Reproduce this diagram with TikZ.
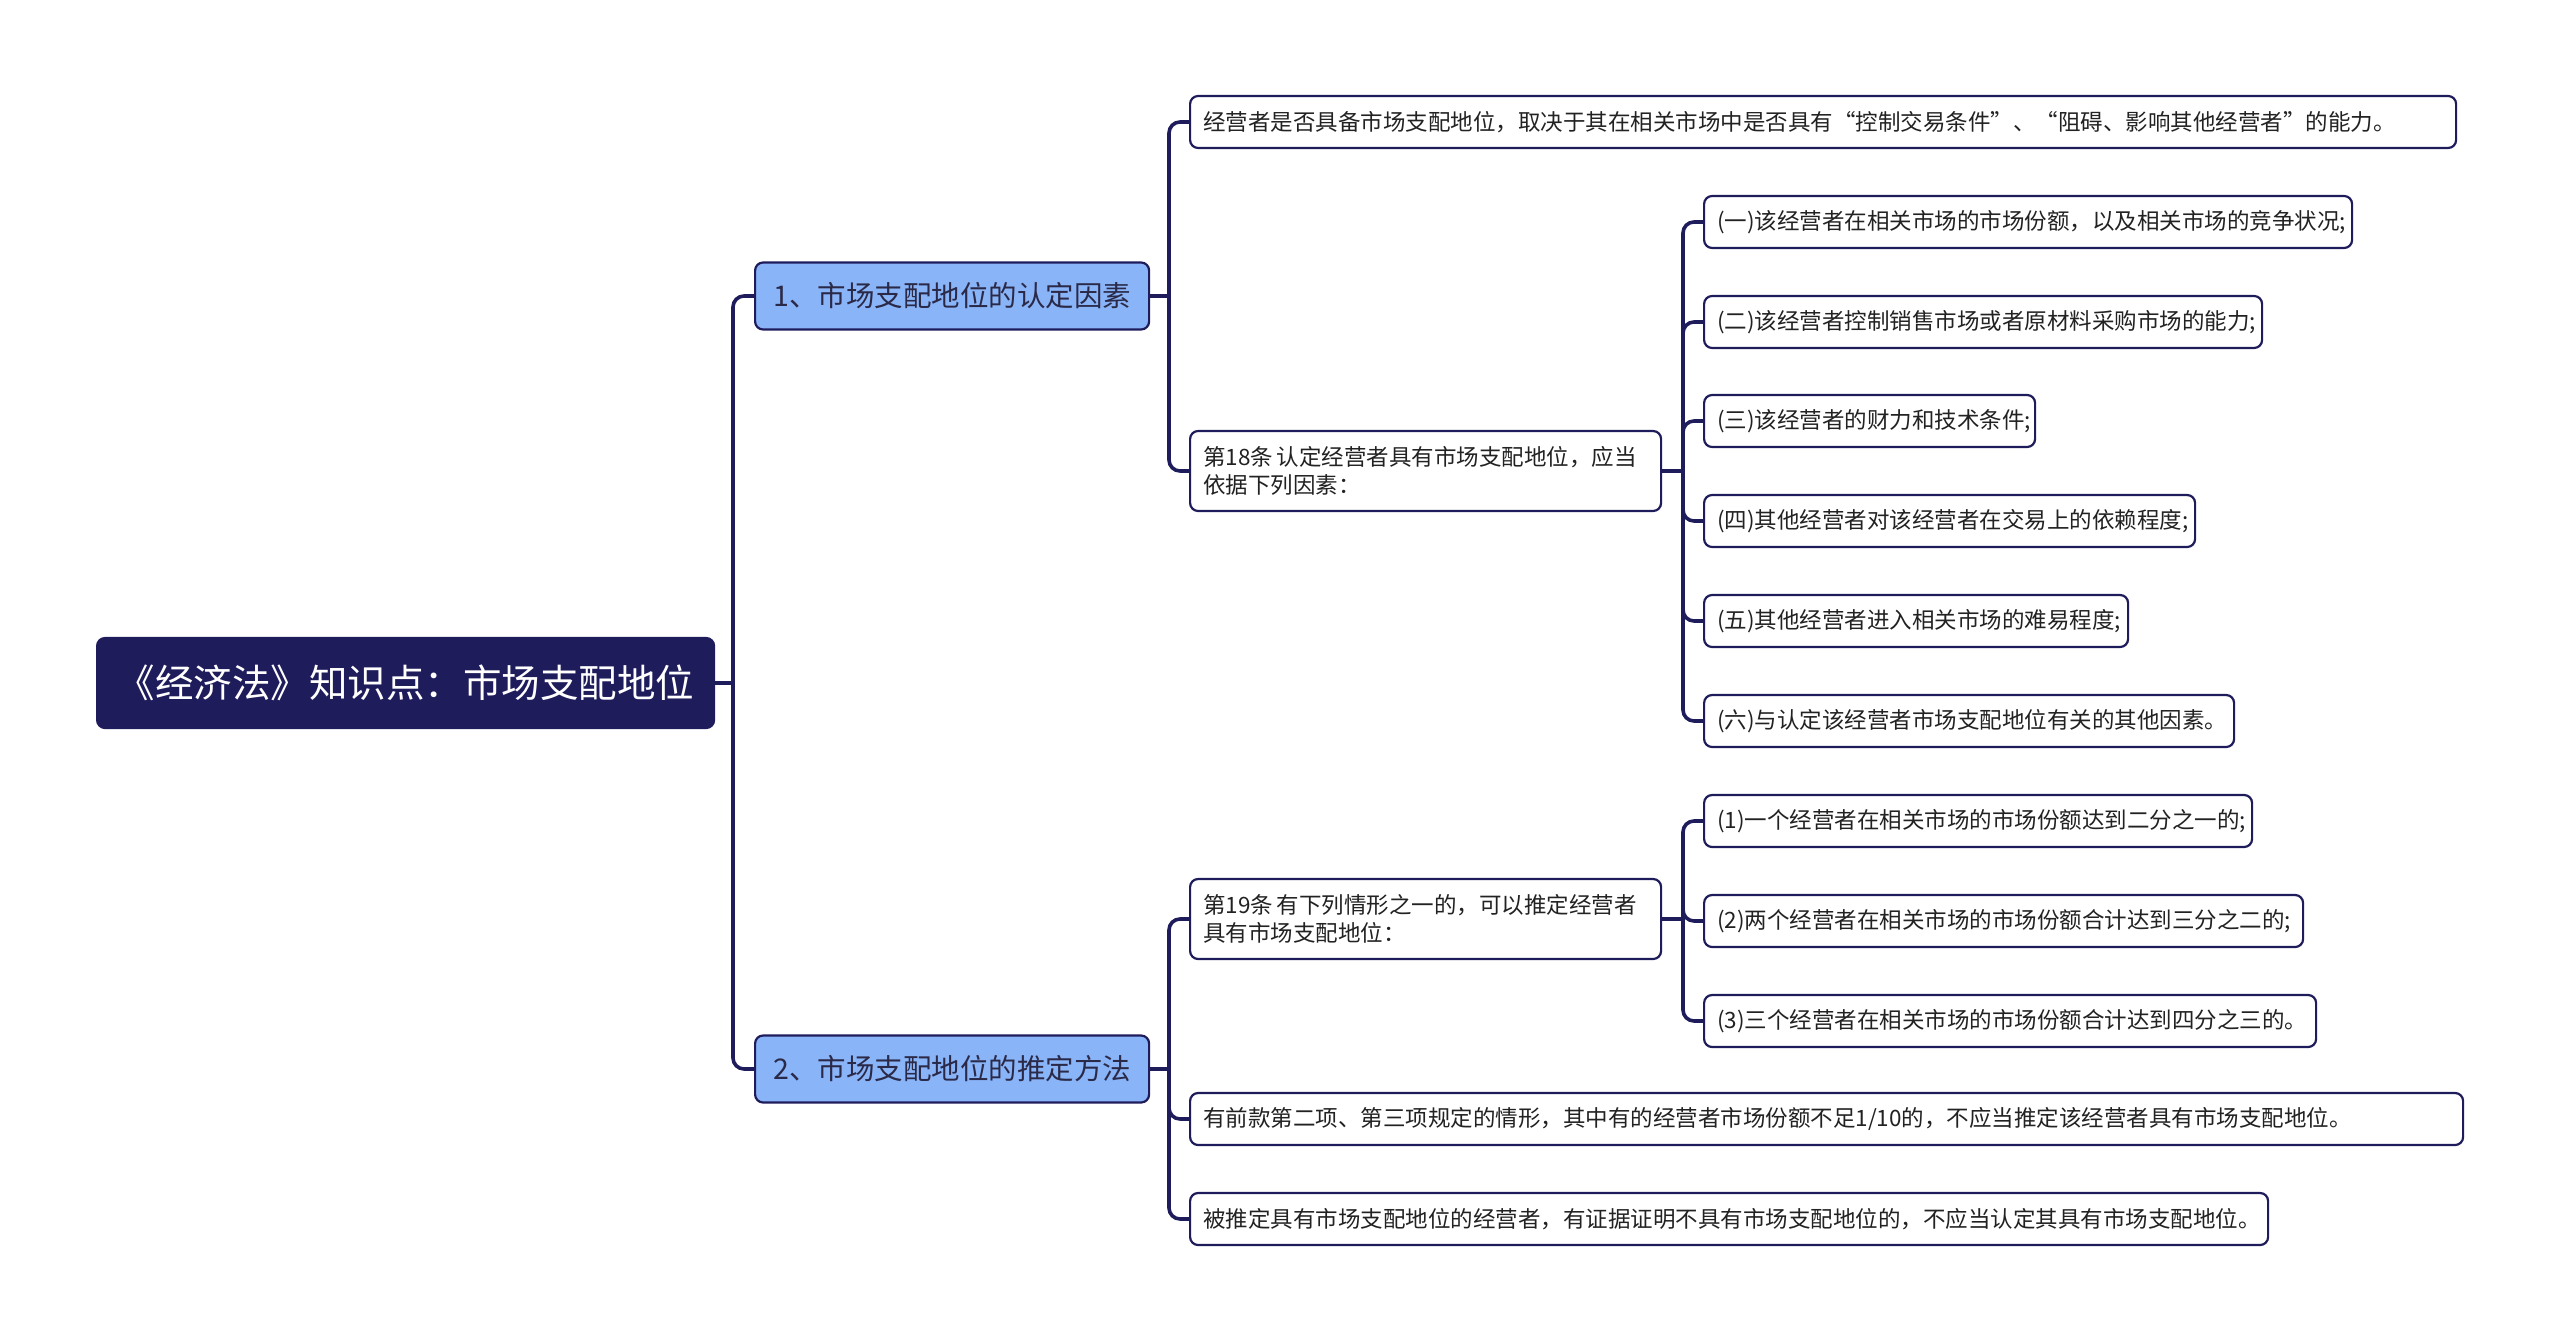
\documentclass[tikz,border=0pt]{standalone}
\usepackage{fontspec}
\newfontfamily\cjkfont{Noto Sans CJK SC}
\usetikzlibrary{positioning}
\definecolor{navy}{HTML}{1F1C5C}
\definecolor{topicblue}{HTML}{8AB4F8}
\definecolor{ink}{HTML}{222222}
\definecolor{ink2}{HTML}{2A2A48}
\tikzset{
  font=\cjkfont,
  box/.style={draw=navy, line width=2.2pt, rounded corners=8pt, inner xsep=13pt, inner ysep=12pt, text=ink},
  rootbox/.style={box, fill=navy, text=white, minimum width=617pt, minimum height=90pt, font=\cjkfont\fontsize{38.5}{44}\selectfont},
  topic/.style={box, fill=topicblue, text=ink2, minimum width=394pt, minimum height=67pt, font=\cjkfont\fontsize{28.5}{34}\selectfont},
  leaf/.style={box, fill=white, text width=#1, align=left, minimum height=52pt, font=\cjkfont\fontsize{22.5}{28}\selectfont},
  twoline/.style={minimum height=80pt},
  link/.style={draw=navy, line width=3.6pt, rounded corners=11pt},
}
\begin{document}
\begin{tikzpicture}[x=1pt, y=-1pt]
\useasboundingbox (0,0) rectangle (2560,1340);
% root and main topics
\node[rootbox, anchor=west] (root) at (96,683) {《经济法》知识点：市场支配地位};
\node[topic, anchor=west] (b1) at (754,296) {1、市场支配地位的认定因素};
\node[topic, anchor=west] (b2) at (754,1069) {2、市场支配地位的推定方法};
\coordinate (rbus) at (733,683);
\draw[link] (root.east) -- (rbus);
\draw[link] (rbus) |- (b1.west); \draw[link] (rbus) |- (b2.west);
% factors
\node[leaf=1240pt, anchor=west] (a1) at (1189,122) {经营者是否具备市场支配地位，取决于其在相关市场中是否具有“控制交易条件”、“阻碍、影响其他经营者”的能力。};
\node[leaf=445pt, twoline, anchor=west] (a18) at (1189,471) {第18条\,认定经营者具有市场支配地位，应当\\依据下列因素：};
\coordinate (b1bus) at (1169,296);
\draw[link] (b1.east) -- (b1bus);
\draw[link] (b1bus) |- (a1.west); \draw[link] (b1bus) |- (a18.west);
\node[leaf=622pt, anchor=west] (f1) at (1703,222) {(一)该经营者在相关市场的市场份额，以及相关市场的竞争状况;};
\node[leaf=532pt, anchor=west] (f2) at (1703,322) {(二)该经营者控制销售市场或者原材料采购市场的能力;};
\node[leaf=305pt, anchor=west] (f3) at (1703,421) {(三)该经营者的财力和技术条件;};
\node[leaf=465pt, anchor=west] (f4) at (1703,521) {(四)其他经营者对该经营者在交易上的依赖程度;};
\node[leaf=398pt, anchor=west] (f5) at (1703,621) {(五)其他经营者进入相关市场的难易程度;};
\node[leaf=504pt, anchor=west] (f6) at (1703,721) {(六)与认定该经营者市场支配地位有关的其他因素。};
\coordinate (a18bus) at (1683,471);
\draw[link] (a18.east) -- (a18bus);
\draw[link] (a18bus) |- (f1.west); \draw[link] (a18bus) |- (f2.west); \draw[link] (a18bus) |- (f3.west);
\draw[link] (a18bus) |- (f4.west); \draw[link] (a18bus) |- (f5.west); \draw[link] (a18bus) |- (f6.west);
% presumption
\node[leaf=445pt, twoline, anchor=west] (a19) at (1189,919) {第19条\,有下列情形之一的，可以推定经营者\\具有市场支配地位：};
\node[leaf=1247pt, anchor=west] (n1) at (1189,1119) {有前款第二项、第三项规定的情形，其中有的经营者市场份额不足1/10的，不应当推定该经营者具有市场支配地位。};
\node[leaf=1052pt, anchor=west] (n2) at (1189,1219) {被推定具有市场支配地位的经营者，有证据证明不具有市场支配地位的，不应当认定其具有市场支配地位。};
\coordinate (b2bus) at (1169,1069);
\draw[link] (b2.east) -- (b2bus);
\draw[link] (b2bus) |- (a19.west); \draw[link] (b2bus) |- (n1.west); \draw[link] (b2bus) |- (n2.west);
\node[leaf=522pt, anchor=west] (p1) at (1703,821) {(1)一个经营者在相关市场的市场份额达到二分之一的;};
\node[leaf=573pt, anchor=west] (p2) at (1703,921) {(2)两个经营者在相关市场的市场份额合计达到三分之二的;};
\node[leaf=586pt, anchor=west] (p3) at (1703,1021) {(3)三个经营者在相关市场的市场份额合计达到四分之三的。};
\coordinate (a19bus) at (1683,919);
\draw[link] (a19.east) -- (a19bus);
\draw[link] (a19bus) |- (p1.west); \draw[link] (a19bus) |- (p2.west); \draw[link] (a19bus) |- (p3.west);
\end{tikzpicture}
\end{document}
